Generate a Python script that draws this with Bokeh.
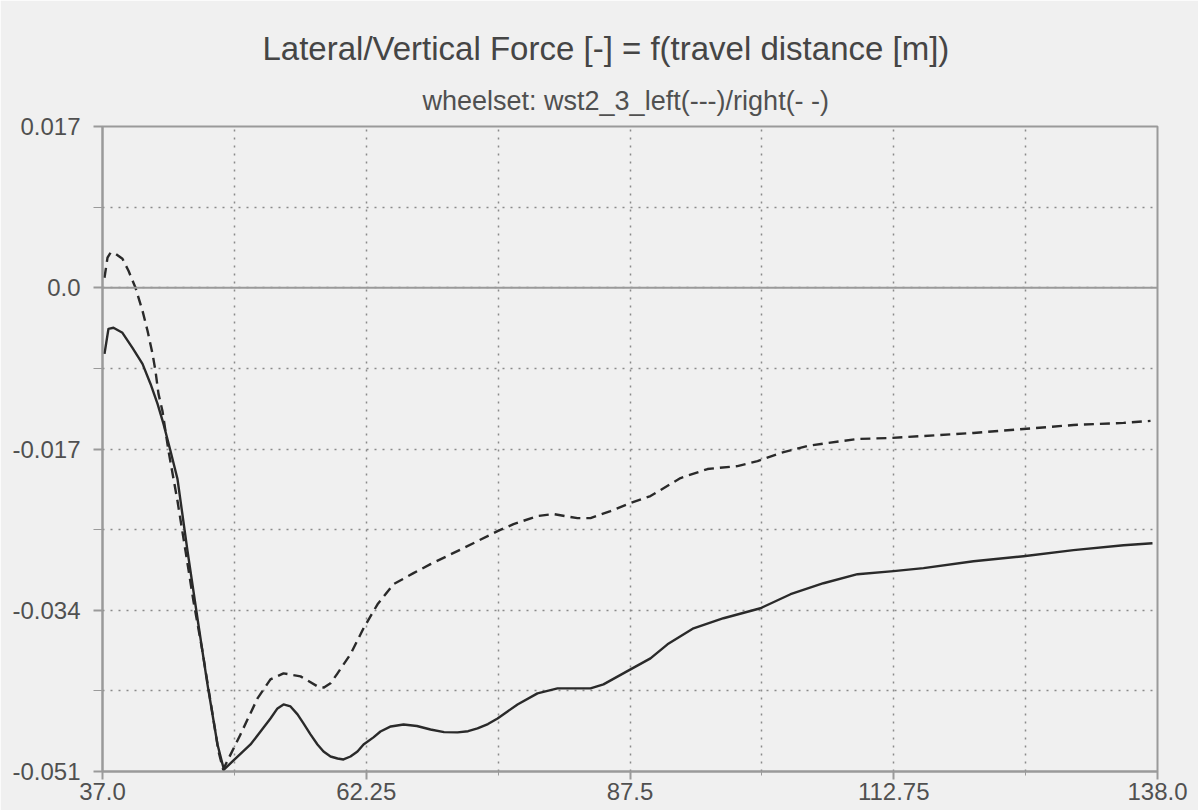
from bokeh.plotting import figure
from bokeh.models import FixedTicker, Span, Title
from bokeh.embed import file_html
from bokeh.resources import INLINE

# ---- data ----
x_ticks = [37.0, 62.25, 87.5, 112.75, 138.0]
x_tick_labels = ["37.0", "62.25", "87.5", "112.75", "138.0"]
x_minor = [49.625, 74.875, 100.125, 125.375]
y_ticks = [0.017, 0.0, -0.017, -0.034, -0.051]
y_tick_labels = ["0.017", "0.0", "-0.017", "-0.034", "-0.051"]
y_minor = [0.0085, -0.0085, -0.0255, -0.0425]

# left wheel (solid)
left_x = [37.19, 37.57, 38.05, 38.91, 39.87, 40.83, 41.60, 42.27, 42.84, 43.51,
          44.18, 45.14, 46.09, 47.05, 48.01, 48.62, 51.17, 52.13, 53.08, 53.75,
          54.33, 55.00, 55.67, 56.24, 56.91, 57.58, 58.16, 58.83, 59.50, 60.07,
          60.74, 61.41, 61.99, 62.94, 63.61, 64.60, 65.82, 67.10, 68.40, 69.70,
          70.99, 72.00, 72.90, 73.90, 74.82, 76.73, 78.64, 80.56, 83.72, 84.96,
          87.55, 89.46, 91.09, 93.58, 96.45, 99.99, 102.87, 106.02, 109.28, 112.73,
          115.60, 120.39, 125.17, 129.96, 134.75, 137.52]
left_y = [-0.00697, -0.00433, -0.00422, -0.00475, -0.00634, -0.00803, -0.01014, -0.01225, -0.01436, -0.01721,
          -0.02017, -0.02777, -0.03484, -0.04181, -0.04815, -0.05079, -0.04815, -0.04678, -0.04541, -0.04435,
          -0.04393, -0.04414, -0.04498, -0.04593, -0.04709, -0.04815, -0.04889, -0.04942, -0.04963, -0.04973,
          -0.04942, -0.04889, -0.04815, -0.04740, -0.04678, -0.04625, -0.04604, -0.04620, -0.04657, -0.04685,
          -0.04688, -0.04675, -0.04646, -0.04600, -0.04541, -0.04393, -0.04276, -0.04224, -0.04224, -0.04181,
          -0.04023, -0.03907, -0.03759, -0.03590, -0.03484, -0.03379, -0.03231, -0.03115, -0.03020, -0.02988,
          -0.02956, -0.02883, -0.02830, -0.02766, -0.02714, -0.02693]

# right wheel (dashed)
right_x = [37.19, 37.48, 37.77, 38.24, 38.91, 39.49, 40.16, 40.83, 41.31, 41.79,
           42.07, 42.36, 42.74, 43.32, 44.18, 44.95, 45.71, 46.57, 47.34, 48.11,
           48.55, 50.21, 51.84, 53.08, 54.33, 55.96, 57.58, 58.20, 58.83, 59.50,
           60.74, 61.99, 63.33, 64.86, 66.77, 68.40, 71.56, 74.82, 76.35, 78.64,
           80.18, 82.47, 83.72, 85.63, 87.55, 89.46, 92.34, 94.92, 97.79, 99.71,
           101.91, 104.49, 106.41, 109.28, 112.44, 115.60, 120.39, 125.17, 129.96, 134.75,
           137.33]
right_y = [0.00106, 0.00317, 0.00370, 0.00359, 0.00306, 0.00179, 0.00000, -0.00243, -0.00454, -0.00697,
           -0.00876, -0.01119, -0.01299, -0.01721, -0.02249, -0.02777, -0.03305, -0.03833, -0.04361, -0.04889,
           -0.05079, -0.04709, -0.04329, -0.04129, -0.04065, -0.04097, -0.04202, -0.04215, -0.04170, -0.04065,
           -0.03864, -0.03590, -0.03337, -0.03125, -0.03009, -0.02914, -0.02745, -0.02566, -0.02492, -0.02407,
           -0.02386, -0.02429, -0.02429, -0.02355, -0.02270, -0.02196, -0.02006, -0.01911, -0.01880, -0.01827,
           -0.01742, -0.01668, -0.01637, -0.01594, -0.01584, -0.01563, -0.01531, -0.01489, -0.01447, -0.01425,
           -0.01404]

title_text = "Lateral/Vertical Force [-] = f(travel distance [m])"
subtitle_text = "wheelset: wst2_3_left(---)/right(- -)"

BG = "#f0f0f0"
FRAME = "#9a9a9a"
GRID = "#8a8a8a"
INK = "#2a2a2a"
TXT = "#505050"
FONT = "Liberation Sans"

p = figure(width=1198, height=810, x_range=(37.0, 138.0), y_range=(-0.051, 0.017),
           output_backend="svg", toolbar_location=None,
           min_border_left=102, min_border_right=41, min_border_top=126, min_border_bottom=39)
p.background_fill_color = BG
p.border_fill_color = BG
p.outline_line_color = FRAME
p.outline_line_width = 2

sub = Title(text=subtitle_text, align="left", text_font_size="27px", text_font=FONT,
            text_font_style="normal", text_color=TXT, standoff=22, offset=320)
main = Title(text=title_text, align="left", text_font_size="33px", text_font=FONT,
             text_font_style="normal", text_color="#454545", standoff=11, offset=160)
p.add_layout(sub, "above")
p.add_layout(main, "above")

for ax in (p.xaxis[0], p.yaxis[0]):
    ax.axis_line_color = FRAME
    ax.axis_line_width = 2
    ax.major_tick_line_color = FRAME
    ax.major_tick_line_width = 2
    ax.minor_tick_line_color = FRAME
    ax.minor_tick_line_width = 1
    ax.major_tick_in = 0
    ax.minor_tick_in = 0
    ax.major_label_text_font = FONT
    ax.major_label_text_font_size = "24px"
    ax.major_label_text_color = TXT

p.xaxis.ticker = FixedTicker(ticks=x_ticks, minor_ticks=x_minor)
p.xaxis.major_label_overrides = {t: l for t, l in zip(x_ticks, x_tick_labels)}
p.xaxis.major_tick_out = 8
p.xaxis.minor_tick_out = 4
p.xaxis.major_label_standoff = 3

p.yaxis.ticker = FixedTicker(ticks=y_ticks, minor_ticks=y_minor)
p.yaxis.major_label_overrides = {t: l for t, l in zip(y_ticks, y_tick_labels)}
p.yaxis.major_tick_out = 9
p.yaxis.minor_tick_out = 9
p.yaxis.major_label_standoff = 13

for g in (p.xgrid[0], p.ygrid[0]):
    g.grid_line_color = GRID
    g.grid_line_dash = "2 6"
    g.grid_line_width = 1.5
    g.minor_grid_line_color = GRID
    g.minor_grid_line_dash = "2 6"
    g.minor_grid_line_width = 1.5

p.add_layout(Span(location=0.0, dimension="width", line_color=FRAME, line_width=2))

p.line(left_x, left_y, line_color=INK, line_width=2.4, line_join="round")
p.line(right_x, right_y, line_color=INK, line_width=2.4, line_dash="10 6", line_join="round")

open("out.html", "w").write(file_html(p, INLINE))
